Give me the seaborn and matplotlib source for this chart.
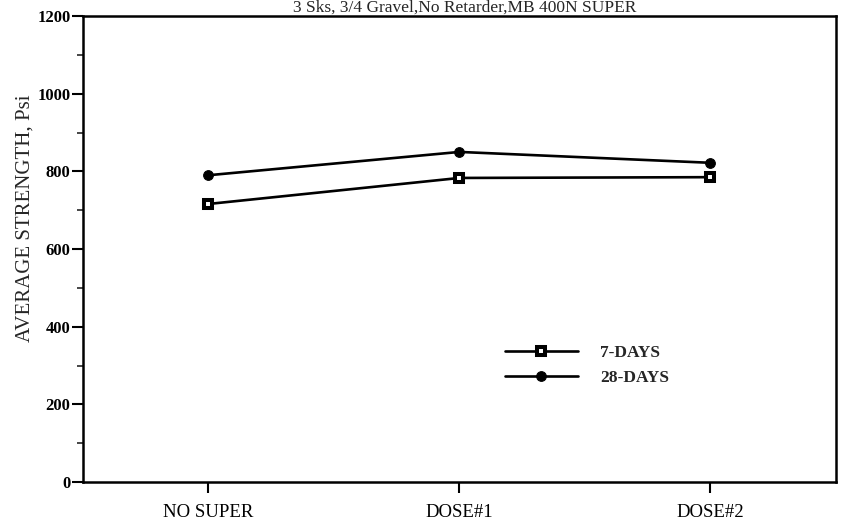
import matplotlib

matplotlib.use("Agg")
import matplotlib.pyplot as plt
import pandas as pd
import seaborn as sns
from matplotlib.ticker import MultipleLocator

# values
categories = ["NO SUPER", "DOSE#1", "DOSE#2"]
days_7 = [716, 783, 785]
days_28 = [790, 850, 822]
series_names = ["7-DAYS", "28-DAYS"]
title = "3 Sks, 3/4 Gravel,No Retarder,MB 400N SUPER"
y_label = "AVERAGE STRENGTH, Psi"

df = pd.DataFrame(
    {
        "mix": categories * 2,
        "strength": days_7 + days_28,
        "age": [series_names[0]] * 3 + [series_names[1]] * 3,
    }
)

sns.set_style("ticks")
plt.rcParams["font.family"] = ["Liberation Serif", "DejaVu Serif"]

fig = plt.figure(figsize=(8.41, 5.27), dpi=100)
ax = fig.add_axes([0.0987, 0.0854, 0.8953, 0.8842])

marker_styles = {
    "7-DAYS": dict(marker="s", markersize=5.8, markerfacecolor="white",
                   markeredgecolor="black", markeredgewidth=2.9),
    "28-DAYS": dict(marker="o", markersize=7, markerfacecolor="black",
                    markeredgecolor="black"),
}
for name in series_names:
    sns.lineplot(
        data=df[df["age"] == name],
        x="mix",
        y="strength",
        sort=False,
        color="black",
        linewidth=1.9,
        label=name,
        ax=ax,
        **marker_styles[name],
    )

ax.set_xlim(-0.5, 2.5)
ax.set_ylim(0, 1200)
ax.yaxis.set_major_locator(MultipleLocator(200))
ax.yaxis.set_minor_locator(MultipleLocator(100))
ax.tick_params(axis="both", which="major", direction="out", length=8,
               width=1.5, colors="black")
ax.tick_params(axis="y", which="minor", direction="out", length=4, width=1.2)
ax.tick_params(axis="x", labelsize=13.5, pad=8)
ax.tick_params(axis="y", labelsize=12, pad=1)
for lbl in ax.get_yticklabels():
    lbl.set_fontweight("bold")

for spine in ax.spines.values():
    spine.set_visible(True)
    spine.set_linewidth(1.8)
    spine.set_color("black")

ax.set_xlabel("")
ax.set_ylabel(y_label, fontsize=15, va="center")
ax.yaxis.set_label_coords(-0.077, 0.567)

ax.legend(
    loc="center left",
    bbox_to_anchor=(0.56, 0.25),
    frameon=False,
    borderpad=0,
    borderaxespad=0,
    handlelength=4.2,
    handletextpad=1.3,
    labelspacing=0.5,
    prop={"size": 12.5, "weight": "bold"},
)

# the scan crops the top of this line; keep it just inside the canvas
fig.text(0.553, 0.977, title, ha="center", va="baseline", fontsize=12.5)

fig.savefig("out.png", dpi=100)
